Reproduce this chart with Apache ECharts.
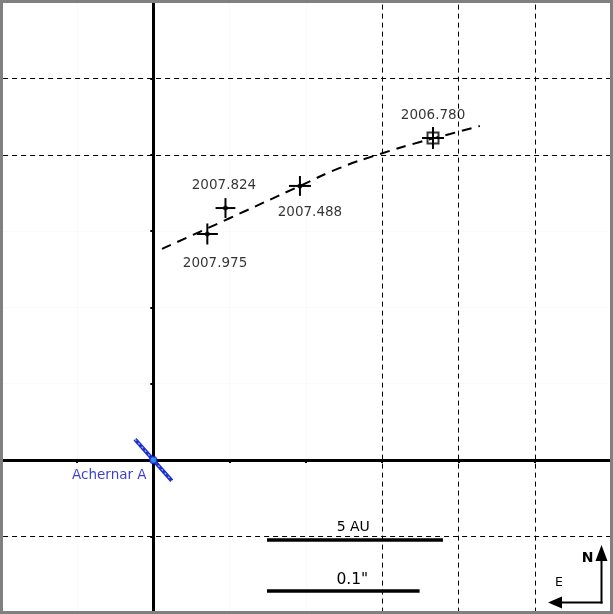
<!DOCTYPE html>
<html><head><meta charset="utf-8">
<script src="https://cdn.jsdelivr.net/npm/echarts@6/dist/echarts.min.js"></script>
<style>html,body{margin:0;padding:0;background:#fff}#c{width:613px;height:614px}</style>
</head><body><div id="c"></div>
<script>
// Relative astrometry (mas), x = offset in RA (East positive, drawn to the left), y = offset in Dec
const epochs = ['2006.780', '2007.488', '2007.824', '2007.975'];
const dRA = [-183.3, -96.1, -47.3, -35.4];
const dDec = [211.0, 179.6, 165.1, 148.1];
const errRA = [7.2, 7.2, 6.5, 6.9];
const errDec = [7.2, 6.5, 6.5, 6.9];
// dashed orbital arc
const fitRA = [-5.7, -50.3, -96.1, -122.3, -148.5, -174.8, -194.4, -214.0];
const fitDec = [138.3, 158.6, 179.6, 191.4, 200.5, 208.4, 213.6, 218.9];
// dashed reference grid lines
const dashedRA = [-250, -200, -150];
const dashedDec = [250, 200, -50];
// primary star
const primaryName = 'Achernar A';
const primaryPos = [0, 0];
const diskRA = [12.0, -12.1];
const diskDec = [13.6, -13.6];
// scale bars
const scaleLabels = ['5 AU', '0.1"'];
const scaleLen = [115.3, 100];
const scaleStartRA = [-74.5, -74.5];
const scaleDec = [-52.4, -85.8];

// styles (pixel offsets of labels)
const epochLabelOffsets = [[0, -23], [10, 27], [-1.5, -22.5], [7.7, 29.7]];
const scaleLabelOffsets = [[-1.7, -13], [9, -11]];
const scaleLabelFont = [14, 15.5];
const FONT = 'DejaVu Sans';
const BLUE = '#0a0ad0';

const chart = echarts.init(document.getElementById('c'));
const option = {
  animation: false,
  backgroundColor: '#fff',
  textStyle: { fontFamily: FONT },
  grid: { left: 0.7, right: 1.9, top: 2.2, bottom: 1.4, show: false },
  xAxis: {
    type: 'value', inverse: true, min: -300, max: 100, interval: 50,
    axisLine: { onZero: true, lineStyle: { color: '#000', width: 3 } },
    axisTick: { show: true, length: 3, lineStyle: { color: '#000', width: 2 } },
    axisLabel: { show: false },
    splitLine: { show: true, lineStyle: { color: '#f6f6f6', type: 'dotted', width: 1 } }
  },
  yAxis: {
    type: 'value', min: -100, max: 300, interval: 50,
    axisLine: { onZero: true, lineStyle: { color: '#000', width: 3 } },
    axisTick: { show: true, length: 3, lineStyle: { color: '#000', width: 2 } },
    axisLabel: { show: false },
    splitLine: { show: true, lineStyle: { color: '#f6f6f6', type: 'dotted', width: 1 } }
  },
  series: [
    {
      type: 'line', name: 'arc', silent: true, z: 3,
      data: fitRA.map((x, i) => [x, fitDec[i]]),
      smooth: true, symbol: 'none',
      lineStyle: { color: '#000', width: 2, type: [10, 7] },
      markLine: {
        silent: true, symbol: ['none', 'none'], label: { show: false },
        lineStyle: { color: '#000', width: 1, type: [5, 4] },
        data: [...dashedRA.map(v => ({ xAxis: v })), ...dashedDec.map(v => ({ yAxis: v }))]
      }
    },
    {
      type: 'custom', name: 'errors', silent: true, z: 5,
      data: epochs.map((e, i) => [dRA[i], dDec[i], errRA[i], errDec[i]]),
      encode: { x: 0, y: 1 },
      renderItem: (params, api) => {
        const x = api.value(0), y = api.value(1), ex = api.value(2), ey = api.value(3);
        const l = api.coord([x + ex, y]), r = api.coord([x - ex, y]);
        const t = api.coord([x, y + ey]), b = api.coord([x, y - ey]);
        return { type: 'group', children: [
          { type: 'line', shape: { x1: l[0], y1: l[1], x2: r[0], y2: r[1] }, style: { stroke: '#000', lineWidth: 2 } },
          { type: 'line', shape: { x1: t[0], y1: t[1], x2: b[0], y2: b[1] }, style: { stroke: '#000', lineWidth: 2 } }
        ]};
      }
    },
    {
      type: 'scatter', name: 'epochs', silent: true, z: 6,
      data: epochs.map((e, i) => ({
        name: e, value: [dRA[i], dDec[i]],
        symbol: i === 0 ? 'rect' : 'circle',
        symbolSize: i === 0 ? 11 : 5,
        itemStyle: i === 0 ? { color: 'rgba(0,0,0,0)', borderColor: '#000', borderWidth: 2 } : { color: '#000' },
        label: { offset: epochLabelOffsets[i] }
      })),
      label: {
        show: true, position: 'inside', formatter: '{b}',
        color: '#000', fontSize: 13.5, fontFamily: FONT, textBorderWidth: 0
      }
    },
    {
      type: 'line', name: 'disk', silent: true, z: 7,
      data: diskRA.map((x, i) => [x, diskDec[i]]),
      symbol: 'none', lineStyle: { color: '#1e2ec8', width: 4 }
    },
    {
      type: 'line', name: 'disk2', silent: true, z: 8,
      data: diskRA.map((x, i) => [x, diskDec[i]]),
      symbol: 'none', lineStyle: { color: '#8fb4ff', width: 1.2, type: [2, 3] }
    },
    {
      type: 'scatter', name: 'primary', silent: true, z: 9,
      data: [{ name: primaryName, value: primaryPos }],
      symbol: 'circle', symbolSize: 7,
      itemStyle: { color: '#2e9cff', borderColor: '#1a1acc', borderWidth: 1.5 },
      label: {
        show: true, position: 'left', distance: 2.5, offset: [0, 15],
        formatter: '{b}', color: BLUE, fontSize: 13.5, fontFamily: FONT
      }
    },
    {
      type: 'custom', name: 'scalebars', silent: true, z: 6,
      data: scaleLabels.map((s, i) => [scaleStartRA[i], scaleDec[i], scaleLen[i]]),
      encode: { x: 0, y: 1 },
      renderItem: (params, api) => {
        const i = params.dataIndex;
        const s = api.coord([api.value(0), api.value(1)]);
        const e = api.coord([api.value(0) - api.value(2), api.value(1)]);
        const off = scaleLabelOffsets[i];
        return { type: 'group', children: [
          { type: 'line', shape: { x1: s[0], y1: s[1], x2: e[0], y2: e[1] }, style: { stroke: '#000', lineWidth: 3.4 } },
          { type: 'text', x: (s[0] + e[0]) / 2 + off[0], y: s[1] + off[1],
            style: { text: scaleLabels[i], fill: '#000', fontSize: scaleLabelFont[i], fontFamily: FONT,
              align: 'center', verticalAlign: 'middle', textAlign: 'center', textVerticalAlign: 'middle' } }
        ]};
      }
    }
  ],
  graphic: [
    { type: 'line', shape: { x1: 601.5, y1: 603.5, x2: 601.5, y2: 556 }, style: { stroke: '#000', lineWidth: 2 }, z: 50 },
    { type: 'polygon', shape: { points: [[601.5, 545], [595.5, 561], [607.5, 561]] }, style: { fill: '#000' }, z: 50 },
    { type: 'line', shape: { x1: 602.5, y1: 602.5, x2: 558, y2: 602.5 }, style: { stroke: '#000', lineWidth: 2 }, z: 50 },
    { type: 'polygon', shape: { points: [[548, 602.5], [562, 596.5], [562, 608.5]] }, style: { fill: '#000' }, z: 50 },
    { type: 'text', x: 587.5, y: 558, style: { text: 'N', fill: '#000', fontSize: 14, fontWeight: 'bold', fontFamily: FONT,
      align: 'center', verticalAlign: 'middle', textAlign: 'center', textVerticalAlign: 'middle' }, z: 50 },
    { type: 'text', x: 559, y: 583, style: { text: 'E', fill: '#000', fontSize: 12.5, fontFamily: FONT,
      align: 'center', verticalAlign: 'middle', textAlign: 'center', textVerticalAlign: 'middle' }, z: 50 },
    { type: 'rect', shape: { x: 1.5, y: 1.5, width: 610, height: 611 }, style: { fill: 'none', stroke: '#808080', lineWidth: 3 }, z: 100 }
  ]
};
chart.setOption(option);
</script>
</body></html>
